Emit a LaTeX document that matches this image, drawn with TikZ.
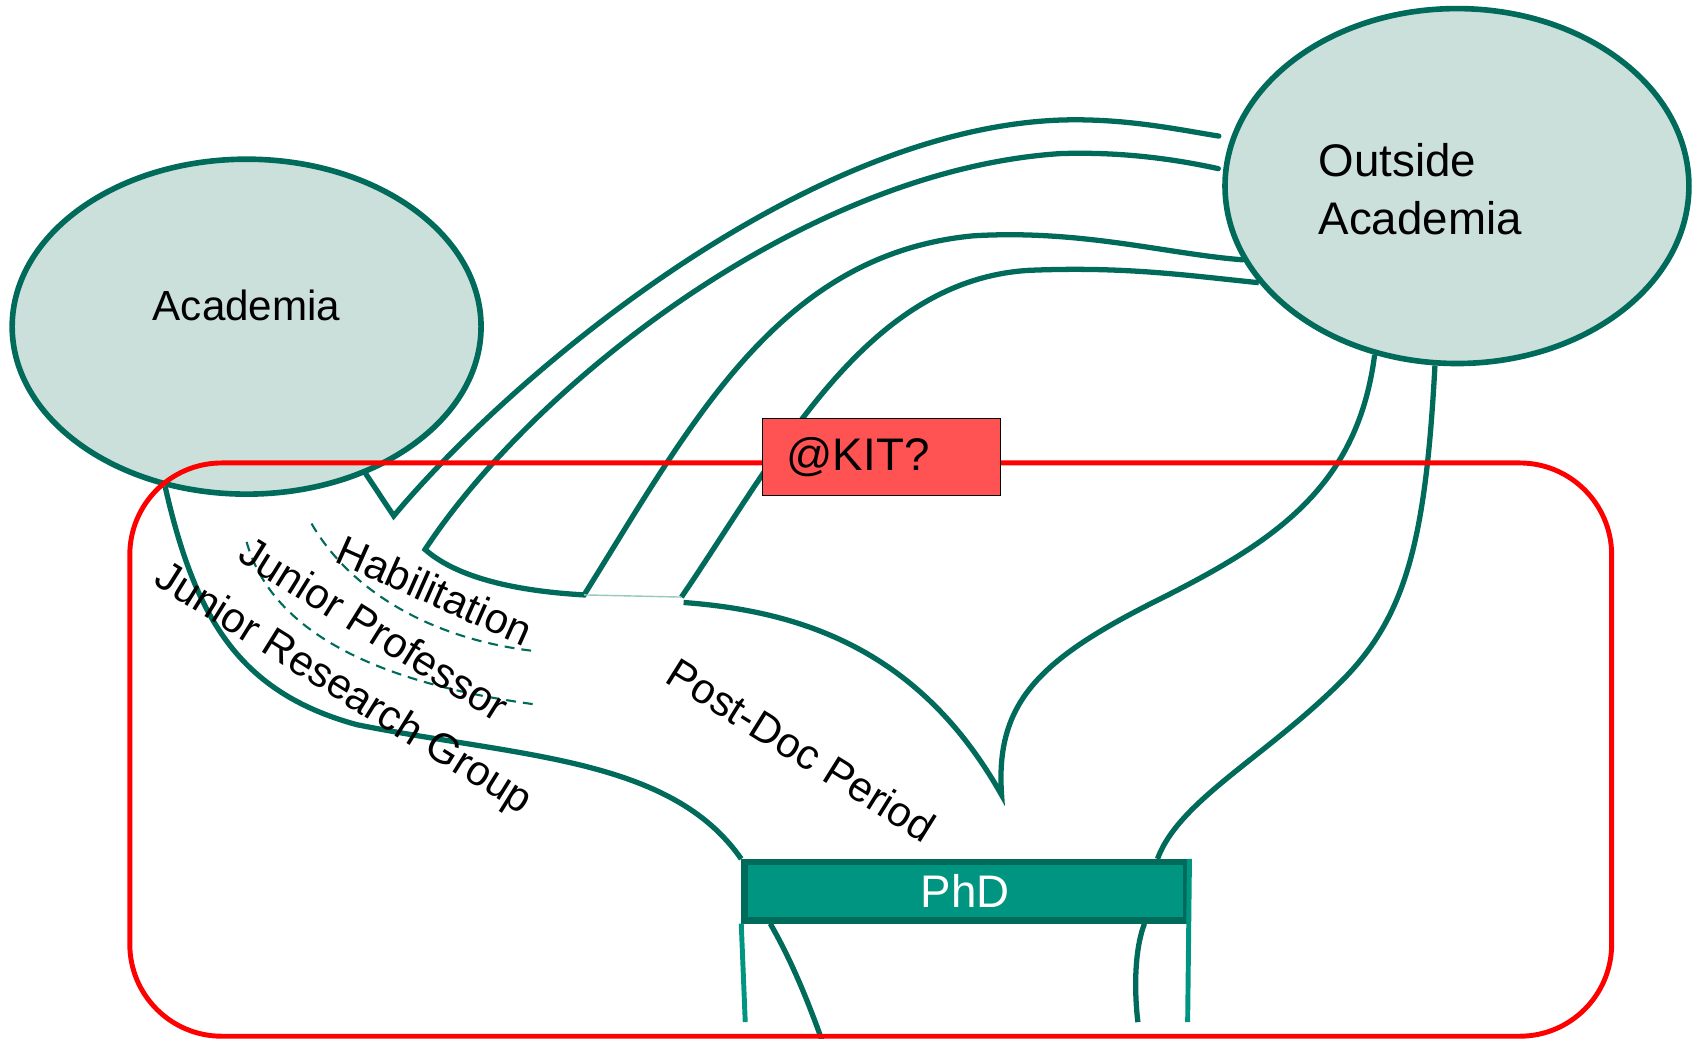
\documentclass[tikz,border=0pt]{standalone}
\usepackage{fontspec}
\setmainfont{Liberation Sans}
\usetikzlibrary{shapes}
\definecolor{kitgreen}{RGB}{0,107,90}
\definecolor{kitlight}{RGB}{204,224,219}
\definecolor{phdgreen}{RGB}{0,149,128}
\definecolor{kitred}{RGB}{255,82,82}
\definecolor{faint}{RGB}{150,200,190}
\tikzstyle{blob} = [ellipse, draw=kitgreen, fill=kitlight, line width=1.6pt, inner sep=0pt]
\tikzstyle{road} = [draw=kitgreen, line width=1.5pt]
\tikzstyle{track} = [draw=kitgreen, line width=0.6pt, dash pattern=on 2.8pt off 2pt]
\tikzstyle{leg} = [draw=phdgreen, line width=1.4pt]
\tikzstyle{slanted} = [font=\fontsize{12}{15}\selectfont, inner sep=0pt]
\tikzstyle{bigtext} = [font=\fontsize{13}{16.6}\selectfont, inner sep=0pt]
\tikzstyle{phdbox} = [rectangle, draw=kitgreen, fill=phdgreen, line width=1.8pt,
    text=white, minimum width=4.42cm, minimum height=0.584cm, inner sep=0pt,
    font=\fontsize{13}{15}\selectfont]
\tikzstyle{kitbox} = [rectangle, draw=black, fill=kitred, line width=0.5pt,
    text width=1.9cm, inner xsep=0.24cm, inner ysep=0pt, minimum height=0.77cm,
    align=left, font=\fontsize{13}{15}\selectfont]

\begin{document}
\begin{tikzpicture}[x=0.010816cm, y=-0.010816cm]
\useasboundingbox (0,0) rectangle (1568,960);

% the two worlds
\node[blob, minimum width=4.69cm, minimum height=3.35cm] (acad) at (228,302) {};
\node[bigtext, font=\fontsize{12}{15}\selectfont] (acadtext) at (228,282) {Academia};
\node[blob, minimum width=4.64cm, minimum height=3.55cm] (outside) at (1347,172) {};
\node[bigtext, align=left] (outtext) at (1313,175) {Outside\\Academia};

\node[phdbox] (phd) at (892.5,824) {PhD};

\coordinate (vA) at (364,477);
\coordinate (vB) at (393,508);
\coordinate (jC) at (540,550);
\coordinate (jD) at (630,552);
\coordinate (jE) at (632,557);
\coordinate (tip) at (926,735);
\coordinate (legl) at (689,945);
\coordinate (legr) at (1098,945);
\coordinate (outl) at (760,962);
\coordinate (outr) at (1052,945);

% career paths
\draw[road, line cap=round, shorten >=0.12cm] (acad.309) -- (vA)
    .. controls (470,350) and (740,120) .. (980,111)
    .. controls (1040,109) and (1090,120) .. (outside.168);
\draw[road, line cap=round, shorten <=0.05cm] (outside.176)
    .. controls (1090,148) and (1040,140) .. (980,142)
    .. controls (740,158) and (490,360) .. (vB)
    .. controls (420,532) and (470,546) .. (jC)
    .. controls (640,390) and (720,235) .. (900,218)
    .. controls (1000,212) and (1080,235) .. (outside.199);
\draw[road] (outside.206) .. controls (1100,255) and (1040,246) .. (950,250)
    .. controls (800,260) and (720,420) .. (jD);
\draw[road] (jE) .. controls (740,565) and (850,600) .. (tip)
    .. controls (920,650) and (960,610) .. (1070,555)
    .. controls (1180,500) and (1255,450) .. (outside.244);
\draw[draw=faint, line width=0.4pt] (jC) -- (jD);
\draw[road] (acad.243) .. controls (180,570) and (220,640) .. (330,670)
    .. controls (480,700) and (620,700) .. (phd.north west);
\draw[road] (outside.263) .. controls (1318,500) and (1300,570) .. (1240,630)
    .. controls (1170,700) and (1090,740) .. ([xshift=-0.32cm]phd.north east);
\draw[track] (288,484) .. controls (320,540) and (390,590) .. (495,602);
\draw[track] (228,501) .. controls (250,580) and (340,630) .. (493,651);

% below the PhD
\draw[leg] (phd.south west) -- (legl);
\draw[leg] (phd.north east) -- (legr);
\draw[road] ([xshift=0.29cm]phd.south west) .. controls (730,885) and (745,920) .. (outl);
\draw[road] ([xshift=-0.45cm]phd.south east) .. controls (1048,880) and (1049,920) .. (outr);

% KIT frame
\draw[red, line width=1.4pt, rounded corners=0.92cm] (120,428) rectangle (1490,958);
\node[kitbox] (kit) at (815,422.5) {@KIT?};

\node[slanted, rotate=-24] (habtext) at (402,546) {Habilitation};
\node[slanted, rotate=-32] (proftext) at (346,581) {Junior Professor};
\node[slanted, rotate=-32] (jrgtext) at (317,638) {Junior Research Group};
\node[slanted, rotate=-32] (postdoctext) at (741,693) {Post-Doc Period};
\end{tikzpicture}
\end{document}
